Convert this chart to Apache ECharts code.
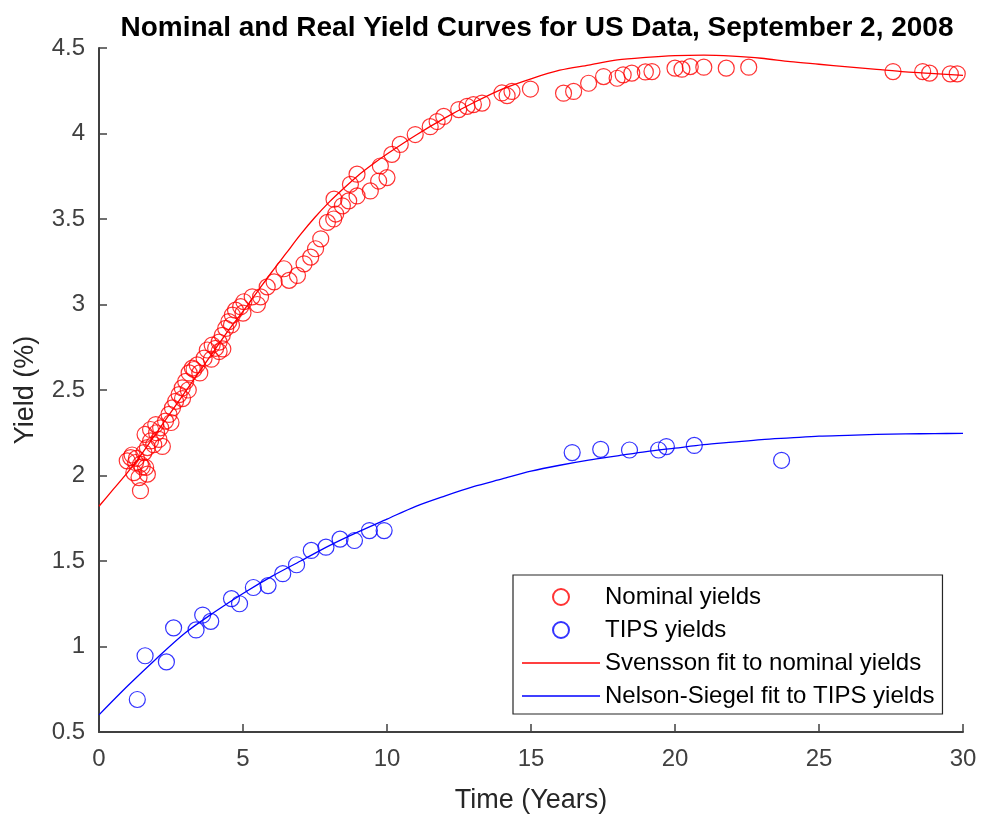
<!DOCTYPE html>
<html>
<head>
<meta charset="utf-8">
<script src="https://cdn.jsdelivr.net/npm/echarts@6/dist/echarts.min.js"></script>
<style>html,body{margin:0;padding:0;background:#fff}#c{width:984px;height:819px}</style>
</head>
<body>
<div id="c"></div>
<script>
// Nominal yields (maturity in years, yield in %)
const nominalYears = [0.98,1.1,1.15,1.21,1.27,1.3,1.39,1.44,1.44,1.5,1.56,1.6,1.62,1.68,1.68,1.79,1.79,1.9,1.97,2.0,2.08,2.14,2.2,2.31,2.43,2.5,2.55,2.66,2.78,2.89,2.9,3.01,3.1,3.13,3.24,3.3,3.41,3.5,3.65,3.76,3.9,3.93,4.05,4.17,4.17,4.28,4.3,4.4,4.51,4.6,4.63,4.74,4.92,5.0,5.03,5.32,5.5,5.61,5.84,6.08,6.42,6.6,6.89,7.12,7.35,7.52,7.7,7.93,8.15,8.16,8.22,8.45,8.67,8.73,8.96,8.96,9.42,9.71,9.77,10.0,10.17,10.46,10.98,11.5,11.74,11.97,12.49,12.78,13.0,13.3,13.99,14.17,14.34,14.98,16.13,16.48,17.0,17.52,17.99,18.2,18.5,18.97,19.2,20.0,20.24,20.53,21.0,21.78,22.56,27.57,28.6,28.84,29.56,29.8];
const nominalYields = [2.086,2.105,2.12,2.017,2.076,2.10,1.988,2.066,1.911,2.05,2.134,2.24,2.047,2.163,2.008,2.202,2.269,2.18,2.298,2.25,2.211,2.279,2.17,2.318,2.357,2.31,2.395,2.434,2.473,2.512,2.45,2.55,2.5,2.6,2.628,2.62,2.647,2.6,2.686,2.734,2.68,2.763,2.744,2.78,2.725,2.82,2.74,2.86,2.9,2.88,2.938,2.967,2.987,2.95,3.016,3.045,3.0,3.045,3.103,3.132,3.209,3.141,3.17,3.238,3.277,3.326,3.384,3.48,3.5,3.616,3.529,3.577,3.606,3.703,3.762,3.635,3.664,3.722,3.81,3.742,3.878,3.936,3.994,4.04,4.07,4.10,4.14,4.159,4.169,4.178,4.237,4.221,4.246,4.26,4.236,4.246,4.294,4.333,4.323,4.343,4.353,4.36,4.362,4.382,4.376,4.391,4.388,4.382,4.388,4.362,4.362,4.353,4.349,4.349];
// TIPS yields
const tipsYears = [1.33,1.6,2.34,2.59,3.37,3.6,3.88,4.6,4.88,5.36,5.87,6.38,6.86,7.37,7.88,8.37,8.87,9.39,9.9,16.43,17.42,18.42,19.43,19.7,20.67,23.7];
const tipsYields = [0.69,0.946,0.91,1.109,1.097,1.184,1.147,1.28,1.25,1.345,1.356,1.426,1.478,1.562,1.581,1.628,1.62,1.678,1.678,2.134,2.153,2.149,2.149,2.169,2.176,2.089];
// Svensson fit curve
const svenssonYears = [0,0.5,1,1.5,2,2.5,3,3.5,4,4.5,5,5.5,6,6.5,7,7.5,8,8.5,9,9.5,10,11,12,13,14,15,16,17,18,19,20,21,22,23,24,25,26,27,28,29,30];
const svenssonYields = [1.82,1.92,2.02,2.13,2.25,2.37,2.49,2.61,2.73,2.85,2.96,3.075,3.19,3.30,3.41,3.51,3.60,3.68,3.755,3.82,3.88,3.99,4.09,4.18,4.26,4.32,4.37,4.40,4.43,4.445,4.455,4.458,4.452,4.44,4.42,4.405,4.39,4.375,4.36,4.35,4.34];
// Nelson-Siegel fit curve
const nsYears = [0,1,2,3,4,5,6,7,8,9,10,11,12,13,14,15,16,17,18,19,20,21,22,23,24,25,26,27,28,29,30];
const nsYields = [0.60,0.77,0.93,1.08,1.20,1.31,1.41,1.50,1.59,1.67,1.745,1.82,1.88,1.935,1.98,2.025,2.06,2.09,2.115,2.14,2.16,2.18,2.195,2.21,2.22,2.23,2.235,2.24,2.243,2.245,2.246];
const xTicks = {min:0, max:30, interval:5};
const yTicks = {min:0.5, max:4.5, interval:0.5};

const zip = (a,b)=>a.map((v,i)=>[v,b[i]]);
const FONT = 'Liberation Sans, Arial, sans-serif';
const axisCol = '#404040';
const lineIcon = 'path://M0,0 L78,0 L78,1.4 L0,1.4 Z';
const chart = echarts.init(document.getElementById('c'), null, {renderer:'canvas'});
chart.setOption({
  animation:false,
  backgroundColor:'#fff',
  title:{text:'Nominal and Real Yield Curves for US Data, September 2, 2008',left:532,top:9,textAlign:'center',
    textStyle:{fontFamily:FONT,fontWeight:'bold',fontSize:28,color:'#000'}},
  grid:{left:99,right:21,top:48,bottom:85,containLabel:false},
  xAxis:{type:'value',min:xTicks.min,max:xTicks.max,interval:xTicks.interval,
    name:'Time (Years)',nameLocation:'middle',nameGap:55,
    nameTextStyle:{fontFamily:FONT,fontSize:27,color:'#262626'},
    axisLine:{lineStyle:{color:axisCol,width:2}},
    axisTick:{inside:true,length:8,lineStyle:{color:axisCol,width:1.5}},
    axisLabel:{fontFamily:FONT,fontSize:24,color:'#404040',margin:15},
    splitLine:{show:false}},
  yAxis:{type:'value',min:yTicks.min,max:yTicks.max,interval:yTicks.interval,
    name:'Yield (%)',nameLocation:'middle',nameGap:60,nameRotate:90,
    nameTextStyle:{fontFamily:FONT,fontSize:27,color:'#262626'},
    axisLine:{show:true,lineStyle:{color:axisCol,width:2}},
    axisTick:{show:true,inside:true,length:8,lineStyle:{color:axisCol,width:1.5}},
    axisLabel:{fontFamily:FONT,fontSize:24,color:'#404040',margin:14,padding:[6,0,0,0]},
    splitLine:{show:false}},
  legend:{orient:'vertical',left:513,top:575,
    padding:[10,8,6,9],itemGap:9,itemWidth:78,itemHeight:16,
    backgroundColor:'#fff',borderColor:'#262626',borderWidth:1.2,borderRadius:0,
    textStyle:{fontFamily:FONT,fontSize:24,color:'#000',lineHeight:24},
    data:[{name:'Nominal yields'},{name:'TIPS yields'},
      {name:'Svensson fit to nominal yields',icon:lineIcon},
      {name:'Nelson-Siegel fit to TIPS yields',icon:lineIcon}]},
  series:[
    {name:'Nominal yields',type:'scatter',symbol:'circle',symbolSize:16,
     itemStyle:{color:'rgba(255,255,255,0)',borderColor:'#ff0000',borderWidth:1.2},
     data:zip(nominalYears,nominalYields),z:3},
    {name:'TIPS yields',type:'scatter',symbol:'circle',symbolSize:16,
     itemStyle:{color:'rgba(255,255,255,0)',borderColor:'#0000ff',borderWidth:1.2},
     data:zip(tipsYears,tipsYields),z:3},
    {name:'Svensson fit to nominal yields',type:'line',showSymbol:false,symbol:'none',smooth:0.3,
     lineStyle:{color:'#ff0000',width:1.3},itemStyle:{color:'#ff0000'},
     data:zip(svenssonYears,svenssonYields),z:2},
    {name:'Nelson-Siegel fit to TIPS yields',type:'line',showSymbol:false,symbol:'none',smooth:0.3,
     lineStyle:{color:'#0000ff',width:1.3},itemStyle:{color:'#0000ff'},
     data:zip(nsYears,nsYields),z:2}
  ]
});
</script>
</body>
</html>
